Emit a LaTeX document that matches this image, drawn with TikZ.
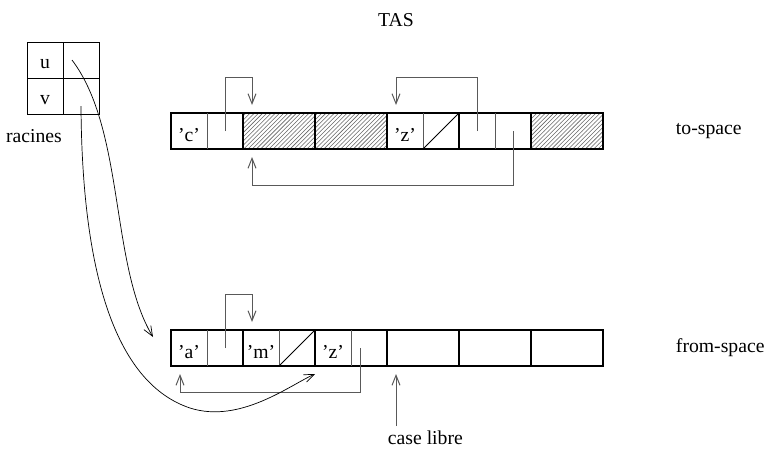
\documentclass[tikz,border=0pt]{standalone}
\usepackage{fontspec}
\setmainfont{Liberation Serif}[Ligatures=TeX]
\newfontfamily\tasfont{Liberation Serif}[Ligatures=TeX]
\usepackage{tikz}
\usetikzlibrary{positioning,calc,patterns,arrows.meta}

\tikzset{
    cell/.style={draw,line width=1.2pt,minimum width=1.8cm,minimum height=0.9cm,inner sep=0pt,outer sep=0pt},
    hatched/.style={cell,pattern=north east lines,pattern color=black!60},
    root/.style={draw,line width=0.5pt,minimum width=0.9cm,minimum height=0.9cm,inner sep=0pt,outer sep=0pt},
    letter/.style={anchor=base,inner sep=0pt},
    half/.style={draw=black!65,line width=0.7pt},
    ptr/.style={draw=black!65,line width=0.7pt,-{Straight Barb[length=2.5mm,width=2mm]}},
    link/.style={draw,line width=0.5pt,-{Straight Barb[length=2.5mm,width=2mm]}},
}

\begin{document}
\begin{tikzpicture}[font=\tasfont\fontsize{14}{16}\selectfont]
        \useasboundingbox (0,0) rectangle (19.35,-11.4);

        \node (tas) at (9.9,-0.5) {TAS};

        % racines
        \node[root] (ru) at (1.125,-1.5) {};
        \node[root, right of=ru, node distance=0.9cm] (pu) {};
        \node[root, below of=ru, node distance=0.9cm] (rv) {};
        \node[root, right of=rv, node distance=0.9cm] (pv) {};
        \node[letter] (u) at ($ (ru.center)+(0,-.2) $) {u};
        \node[letter] (v) at ($ (rv.center)+(0,-.2) $) {v};
        \node (racines) at (0.85,-3.4) {racines};

        % to-space
        \node[cell] (t1) at (5.175,-3.275) {};
        \node[hatched, right of=t1, node distance=1.8cm] (t2) {};
        \node[hatched, right of=t2, node distance=1.8cm] (t3) {};
        \node[cell, right of=t3, node distance=1.8cm] (t4) {};
        \node[cell, right of=t4, node distance=1.8cm] (t5) {};
        \node[hatched, right of=t5, node distance=1.8cm] (t6) {};
        \node[anchor=west] (to) at ($ (t6.east)+(1.7,0) $) {to-space};

        \draw[half] (t1.north) -- (t1.south);
        \draw[half] (t4.north) -- (t4.south);
        \draw[half] (t5.north) -- (t5.south);
        \draw[line width=0.6pt] (t4.south) -- (t4.north east);

        \node[letter] (tc) at ($ (t1.center)+(-.45,-.25) $) {'c'};
        \node[letter] (tz) at ($ (t4.center)+(-.45,-.25) $) {'z'};

        \draw[ptr] ($ (t1.center)+(.45,0) $) |- ($ (t2.north west)+(.225,.9) $) -- ($ (t2.north west)+(.225,.2) $);
        \draw[ptr] ($ (t5.center)+(-.45,0) $) |- ($ (t4.north west)+(.225,.9) $) -- ($ (t4.north west)+(.225,.2) $);
        \draw[ptr] ($ (t5.center)+(.45,0) $) |- ($ (t2.south west)+(.225,-.9) $) -- ($ (t2.south west)+(.225,-.2) $);

        % from-space
        \node[cell] (f1) at (5.175,-8.7) {};
        \node[cell, right of=f1, node distance=1.8cm] (f2) {};
        \node[cell, right of=f2, node distance=1.8cm] (f3) {};
        \node[cell, right of=f3, node distance=1.8cm] (f4) {};
        \node[cell, right of=f4, node distance=1.8cm] (f5) {};
        \node[cell, right of=f5, node distance=1.8cm] (f6) {};
        \node[anchor=west] (from) at ($ (f6.east)+(1.7,0) $) {from-space};

        \draw[half] (f1.north) -- (f1.south);
        \draw[half] (f2.north) -- (f2.south);
        \draw[half] (f3.north) -- (f3.south);
        \draw[line width=0.6pt] (f2.south) -- (f2.north east);

        \node[letter] (fa) at ($ (f1.center)+(-.45,-.25) $) {'a'};
        \node[letter] (fm) at ($ (f2.center)+(-.45,-.25) $) {'m'};
        \node[letter] (fz) at ($ (f3.center)+(-.45,-.25) $) {'z'};

        \draw[ptr] ($ (f1.center)+(.45,0) $) |- ($ (f2.north west)+(.225,.9) $) -- ($ (f2.north west)+(.225,.2) $);
        \draw[ptr] ($ (f3.center)+(.225,0) $) |- ($ (f1.south west)+(.225,-.65) $) -- ($ (f1.south west)+(.225,-.2) $);

        % case libre
        \node[anchor=north west] (libre) at ($ (f4.south west)+(-.1,-1.5) $) {case libre};
        \coordinate (free) at ($ (f4.south west)+(.225,-.2) $);
        \draw[ptr] (libre.north west -| free) -- (free);

        % racines vers from-space
        \draw[link] ($ (pu.center)+(-.225,0) $) .. controls (3.125,-3.25) and (2.75,-6.625) .. ($ (f1.west)+(-.45,.275) $);
        \draw[link] ($ (pv.center)+(0,-.25) $) .. controls (2.05,-7) and (2.95,-9.6) .. (4.75,-10.2) .. controls (6,-10.6) and (7.25,-9.625) .. ($ (f3.south west)+(0,-.2) $);
    \end{tikzpicture}
\end{document}
